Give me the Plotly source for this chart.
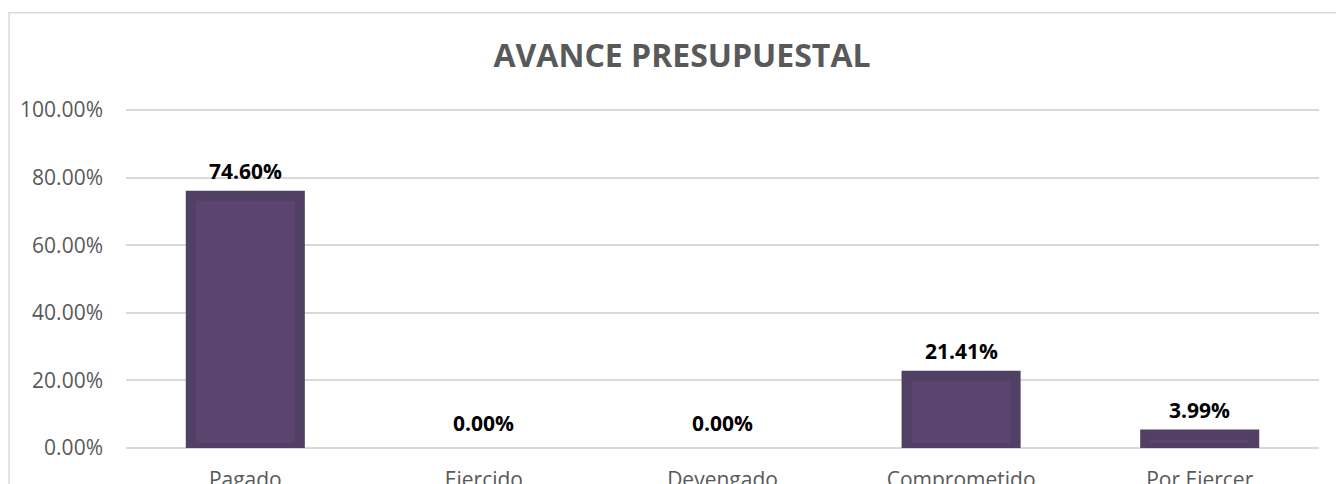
import plotly.graph_objects as go

categories = ["Pagado", "Ejercido", "Devengado", "Comprometido", "Por Ejercer"]
values = [0.7460, 0.0, 0.0, 0.2141, 0.0399]
labels = ["74.60%", "0.00%", "0.00%", "21.41%", "3.99%"]
title_text = "AVANCE PRESUPUESTAL"

FONT = "Open Sans"
W, H = 1336, 476  # page body has an 8px margin

fig = go.Figure()
fig.add_trace(go.Bar(
    x=categories,
    y=values,
    marker=dict(color="#5B4470",
                line=dict(color="#513F66", width=[10 if v > 0 else 0 for v in values])),
    hoverinfo="x+y",
))

for c, v, t in zip(categories, values, labels):
    fig.add_annotation(
        x=c, y=v, text="<b>%s</b>" % t, showarrow=False,
        yanchor="middle", yshift=25,
        font=dict(family=FONT, size=21, color="#000000"),
    )

# chart border (outer frame of the chart area)
fig.add_shape(type="rect", xref="paper", yref="paper",
              x0=-0.098, x1=1.2, y0=-0.3, y1=1.284,
              line=dict(color="#D9D9D9", width=1.5), fillcolor="rgba(0,0,0,0)", layer="below")

fig.update_layout(
    width=W, height=H,
    margin=dict(l=118, r=25, t=101, b=36, autoexpand=False),
    paper_bgcolor="white", plot_bgcolor="white",
    showlegend=False,
    bargap=0.543,
    title=dict(text="<b>%s</b>" % title_text, x=674 / W, xanchor="center",
               y=1 - 48 / H, yanchor="middle",
               font=dict(family=FONT, size=32, color="#595959")),
    font=dict(family=FONT, color="#595959"),
)
fig.update_yaxes(
    range=[0, 1.003], tickformat=".2%", tickvals=[0, 0.2, 0.4, 0.6, 0.8, 1.0],
    showgrid=True, gridcolor="#D9D9D9", gridwidth=1.5,
    zeroline=True, zerolinecolor="#D9D9D9", zerolinewidth=1.5,
    showline=False, ticks="", ticklabelstandoff=22, automargin=False,
    tickfont=dict(family=FONT, size=21, color="#595959"),
)
fig.update_xaxes(
    showgrid=False, showline=False, ticks="", ticklabelstandoff=17, automargin=False,
    tickfont=dict(family=FONT, size=21, color="#595959"),
)

fig.write_html("out.html")
